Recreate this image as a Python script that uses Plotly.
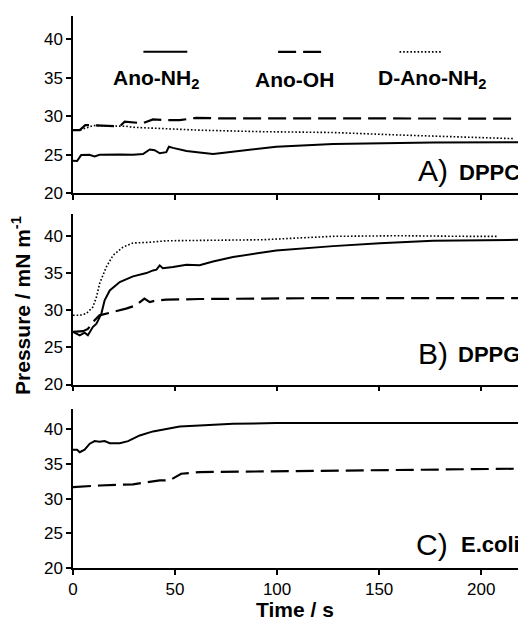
import plotly.graph_objects as go

# ---------------- data ----------------
# Panel A: DPPC
a_nh2_t = [0, 2, 4, 8, 10.6, 13, 23, 29.4, 34.3, 37.6, 40, 42.5, 45.7, 47, 49, 55.6, 62, 68.6, 71.9, 78.4, 99.6, 127.4, 150.3, 176.4, 220]
a_nh2_v = [24.23, 24.2, 24.97, 25.0, 24.8, 25.0, 25.05, 25.0, 25.1, 25.7, 25.6, 25.2, 25.35, 26.05, 25.9, 25.5, 25.3, 25.1, 25.2, 25.4, 26.05, 26.4, 26.5, 26.6, 26.65]
a_oh_t = [0, 3.3, 6, 13, 23, 25.3, 29.4, 34.3, 39.2, 45.7, 52.3, 60.4, 70, 220]
a_oh_v = [28.2, 28.2, 28.86, 28.8, 28.7, 29.3, 29.2, 29.1, 29.6, 29.5, 29.5, 29.8, 29.74, 29.7]
a_dnh2_t = [0, 3.3, 10, 26, 29.4, 45.7, 62, 93, 127, 160, 193, 216]
a_dnh2_v = [28.2, 28.2, 28.8, 28.7, 28.57, 28.4, 28.2, 28.0, 27.9, 27.57, 27.35, 27.1]

# Panel B: DPPG
b_nh2_t = [0, 3.3, 5.7, 7.3, 9.7, 11.5, 13.9, 15.5, 18, 22.9, 29.4, 36, 39.2, 40.9, 42.5, 44, 49, 55.6, 62, 68.6, 78.4, 99.6, 127.4, 150.3, 176.4, 220]
b_nh2_v = [27.09, 26.64, 27.0, 26.64, 27.76, 28.22, 29.57, 31.36, 32.7, 33.83, 34.6, 35.04, 35.4, 35.5, 36.08, 35.7, 35.85, 36.17, 36.1, 36.6, 37.2, 38.1, 38.68, 39.08, 39.4, 39.54]
b_oh_t = [0, 4.9, 7.3, 10.6, 13, 19.6, 26, 30.9, 35, 37.6, 40.9, 45.7, 62, 93, 127, 220]
b_oh_v = [27.1, 27.2, 27.5, 28.67, 29.34, 29.79, 30.24, 30.69, 31.6, 31.13, 31.36, 31.45, 31.54, 31.6, 31.67, 31.67]
b_dnh2_t = [0, 3.3, 6.5, 9.7, 11.5, 13, 16.3, 19.6, 24.5, 29.4, 37.6, 45.7, 62, 93, 127, 160, 193, 208]
b_dnh2_v = [29.34, 29.34, 29.57, 30.46, 31.8, 33.6, 35.85, 37.43, 38.55, 39.1, 39.2, 39.4, 39.45, 39.54, 40.0, 40.08, 40.0, 40.0]

# Panel C: E.coli
c_nh2_t = [0, 2, 3.3, 5.7, 8.2, 10.6, 13, 15.5, 18, 22.9, 27, 32.7, 39.2, 45.7, 52.3, 62, 78.4, 99.6, 127, 220]
c_nh2_v = [37.06, 37.06, 36.7, 37.06, 37.93, 38.3, 38.2, 38.3, 38.0, 38.0, 38.3, 39.12, 39.7, 40.08, 40.42, 40.56, 40.8, 40.9, 40.9, 40.9]
c_oh_t = [0, 13, 29.4, 37.6, 42.5, 47.4, 49.9, 53, 62, 93, 127, 160, 220]
c_oh_v = [31.67, 31.9, 32.06, 32.4, 32.64, 32.64, 33.1, 33.6, 33.83, 33.93, 34.0, 34.18, 34.33]

x_ticks = [0, 50, 100, 150, 200]
y_ticks = [20, 25, 30, 35, 40]
series_names = ["Ano-NH<sub>2</sub>", "Ano-OH", "D-Ano-NH<sub>2</sub>"]
panel_letters = ["A)", "B)", "C)"]
panel_names = ["DPPC", "DPPG", "E.coli"]

# ---------------- styling ----------------
FONT = "Liberation Sans, Arial, sans-serif"
SOLID = dict(color="black", width=2)
DASHED = dict(color="black", width=2.2, dash="18px,7px")
DOTTED = dict(color="black", width=1.6, dash="1.6px,2px")

fig = go.Figure()

def add(x, y, line, ax):
    fig.add_trace(go.Scatter(x=x, y=y, mode="lines", line=line, showlegend=False,
                             xaxis="x" + ax, yaxis="y" + ax, hoverinfo="skip"))

add(a_oh_t, a_oh_v, DASHED, "")
add(a_dnh2_t, a_dnh2_v, DOTTED, "")
add(a_nh2_t, a_nh2_v, SOLID, "")
add(b_oh_t, b_oh_v, DASHED, "2")
add(b_dnh2_t, b_dnh2_v, DOTTED, "2")
add(b_nh2_t, b_nh2_v, SOLID, "2")
add(c_oh_t, c_oh_v, DASHED, "3")
add(c_nh2_t, c_nh2_v, SOLID, "3")

axis_common = dict(showline=True, linecolor="black", linewidth=1.5, ticks="outside",
                   ticklen=5, tickwidth=1.5, tickcolor="black", showgrid=False,
                   zeroline=False, tickfont=dict(family=FONT, size=17, color="black"))

# page body has an 8px margin, so the figure is 8px smaller and shifted
domains = [[0.6786, 1.0], [0.3324, 0.6411], [0.0, 0.2889]]
layout = dict(
    width=518, height=613,
    margin=dict(l=65, r=4, t=8, b=53),
    paper_bgcolor="white", plot_bgcolor="white",
    font=dict(family=FONT, color="black"),
)
for i, ax in enumerate(["", "2", "3"]):
    layout["xaxis" + ax] = dict(axis_common, domain=[0, 1], anchor="y" + ax, range=[0, 220],
                                tickvals=x_ticks, showticklabels=(i == 2))
    layout["yaxis" + ax] = dict(axis_common, domain=domains[i], anchor="x" + ax, range=[20, 43],
                                tickvals=y_ticks)
fig.update_layout(**layout)

# legend samples (panel A)
legend_x = [(34.5, 56), (100.5, 122), (160, 181)]
legend_styles = [SOLID, DASHED, DOTTED]
legend_label_x = [40.5, 108.6, 176]
for (x0, x1), st, lx, name in zip(legend_x, legend_styles, legend_label_x, series_names):
    fig.add_shape(type="line", xref="x", yref="y", x0=x0, x1=x1, y0=38.35, y1=38.35,
                  line=st)
    fig.add_annotation(xref="x", yref="y", x=lx, y=34.8, text=name, showarrow=False,
                       xanchor="center", yanchor="middle",
                       font=dict(family=FONT, size=21, color="black", weight="bold"))

# panel labels
label_y = [(23.0, 22.75), (24.2, 24.0), (23.4, 23.45)]
for i, ax in enumerate(["", "2", "3"]):
    fig.add_annotation(xref="x" + ax + " domain" if ax else "x domain", yref="y" + ax,
                       x=(450 - 73.3) / 448.7, y=label_y[i][0], text=panel_letters[i],
                       showarrow=False, xanchor="right", yanchor="middle",
                       font=dict(family=FONT, size=30, color="black"))
    fig.add_annotation(xref="x" + ax + " domain" if ax else "x domain", yref="y" + ax,
                       x=1.0, y=label_y[i][1], text=panel_names[i],
                       showarrow=False, xanchor="right", yanchor="middle",
                       font=dict(family=FONT, size=22, color="black", weight="bold"))

# axis titles
fig.add_annotation(xref="paper", yref="paper", x=(295 - 73.3) / 448.7, y=-0.076,
                   text="Time / s", showarrow=False, xanchor="center", yanchor="middle",
                   borderpad=0,
                   font=dict(family=FONT, size=21, color="black", weight="bold"))
fig.add_annotation(xref="paper", yref="paper", x=(22 - 73.3) / 448.7, y=0.476,
                   text="Pressure / mN m<sup>-1</sup>", textangle=-90, showarrow=False,
                   xanchor="center", yanchor="middle", borderpad=0,
                   font=dict(family=FONT, size=21, color="black", weight="bold"))

fig.write_html("out.html")
